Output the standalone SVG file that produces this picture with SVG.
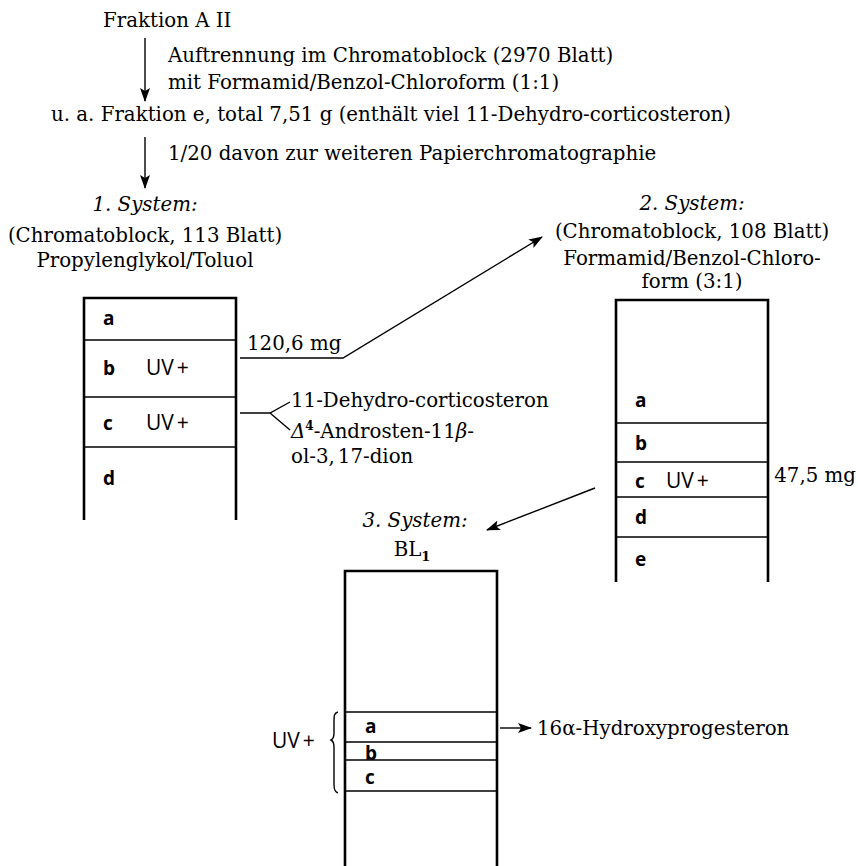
<svg xmlns="http://www.w3.org/2000/svg" width="858" height="866" viewBox="0 0 858 866">
<style>
.t{font-family:"DejaVu Serif","Liberation Serif",serif;font-size:19.8px;fill:#000}
.i{font-style:italic}
.c{text-anchor:middle}
.l{font-family:"Open Sans","DejaVu Sans",sans-serif;font-size:19px;font-weight:700;fill:#000}
.u{font-family:"Open Sans","DejaVu Sans",sans-serif;font-size:21px;font-weight:500;fill:#000}
.side{stroke:#000;stroke-width:2.6;fill:none}
.div{stroke:#000;stroke-width:1.6;fill:none}
.con{stroke:#000;stroke-width:1.4;fill:none}
</style>
<defs>
<marker id="ah" viewBox="0 0 14 10" refX="13" refY="5" markerWidth="14" markerHeight="10" markerUnits="userSpaceOnUse" orient="auto">
<path d="M0,0 L14,5 L0,10 L3,5 Z" fill="#000"/>
</marker>
</defs>
<rect width="858" height="866" fill="#fff"/>

<g id="top-text">
<text class="t" x="103" y="27">Fraktion A II</text>
<text class="t" x="168" y="62">Auftrennung im Chromatoblock (2970 Blatt)</text>
<text class="t" x="168" y="89">mit Formamid/Benzol-Chloroform (1:1)</text>
<text class="t" x="51" y="121">u. a. Fraktion e, total 7,51 g (enthält viel 11-Dehydro-corticosteron)</text>
<text class="t" x="168" y="160">1/20 davon zur weiteren Papierchromatographie</text>
</g>

<g id="system1">
<text class="t i c" x="145" y="211">1. System:</text>
<text class="t c" x="145" y="242">(Chromatoblock, 113 Blatt)</text>
<text class="t c" x="145" y="267">Propylenglykol/Toluol</text>
<path class="side" d="M84,520 V298 H236 V520"/>
<path class="div" d="M84,340 H236 M84,397 H236 M84,447 H236"/>
<text class="l" x="103" y="325">a</text>
<text class="l" x="103" y="375">b</text>
<text class="u" x="146" y="375">UV<tspan dx="3">+</tspan></text>
<text class="l" x="103" y="430">c</text>
<text class="u" x="146" y="430">UV<tspan dx="3">+</tspan></text>
<text class="l" x="103" y="485">d</text>
<text class="t" x="247" y="350">120,6 mg</text>
<text class="t" x="291" y="407">11-Dehydro-corticosteron</text>
<text class="t" x="291" y="438"><tspan class="i">Δ</tspan><tspan font-size="12" font-weight="bold" dy="-8">4</tspan><tspan dy="8">-Androsten-11</tspan><tspan class="i">β</tspan>-</text>
<text class="t" x="291" y="463">ol-3,<tspan dx="3">17-dion</tspan></text>
</g>

<g id="system2">
<text class="t i c" x="692" y="210">2. System:</text>
<text class="t c" x="692" y="238">(Chromatoblock, 108 Blatt)</text>
<text class="t c" x="692" y="265">Formamid/Benzol-Chloro-</text>
<text class="t c" x="692" y="288">form (3:1)</text>
<path class="side" d="M616,582 V300 H768 V582"/>
<path class="div" d="M616,423 H768 M616,462 H768 M616,497 H768 M616,537 H768"/>
<text class="l" x="635" y="407">a</text>
<text class="l" x="635" y="450">b</text>
<text class="l" x="635" y="488">c</text>
<text class="u" x="666" y="488">UV<tspan dx="3">+</tspan></text>
<text class="l" x="635" y="524">d</text>
<text class="l" x="635" y="566">e</text>
<text class="t" x="856" y="482" text-anchor="end">47,5 mg</text>
</g>

<g id="system3">
<text class="t i c" x="415" y="527">3. System:</text>
<text class="t c" x="412" y="556">BL<tspan font-size="13" font-weight="bold" dy="5">1</tspan></text>
<path class="side" d="M345,870 V571 H497 V870"/>
<path class="div" d="M345,712 H497 M345,742 H497 M345,760 H497 M345,791 H497"/>
<text class="l" x="365" y="733">a</text>
<text class="l" x="365" y="760">b</text>
<text class="l" x="365" y="784">c</text>
<text class="u" x="272" y="748">UV<tspan dx="3">+</tspan></text>
<path class="con" d="M338,712 C334,713 334,716 334,722 L334,733 C334,737 333,739 331,740 C333,741 334,743 334,747 L334,784 C334,790 335,792 338,793"/>
<text class="t" x="537" y="735">16α-Hydroxyprogesteron</text>
</g>

<g id="connectors">
<line class="con" x1="145" y1="38" x2="145" y2="101" marker-end="url(#ah)"/>
<line class="con" x1="145" y1="137" x2="145" y2="188" marker-end="url(#ah)"/>
<polyline class="con" points="240,358 343,358 542,237" marker-end="url(#ah)"/>
<path class="con" d="M240,413 H270 L290,402 M270,413 L290,430"/>
<line class="con" x1="595" y1="488" x2="487" y2="530" marker-end="url(#ah)"/>
<line class="con" x1="500" y1="728" x2="531" y2="728" marker-end="url(#ah)"/>
</g>
</svg>
